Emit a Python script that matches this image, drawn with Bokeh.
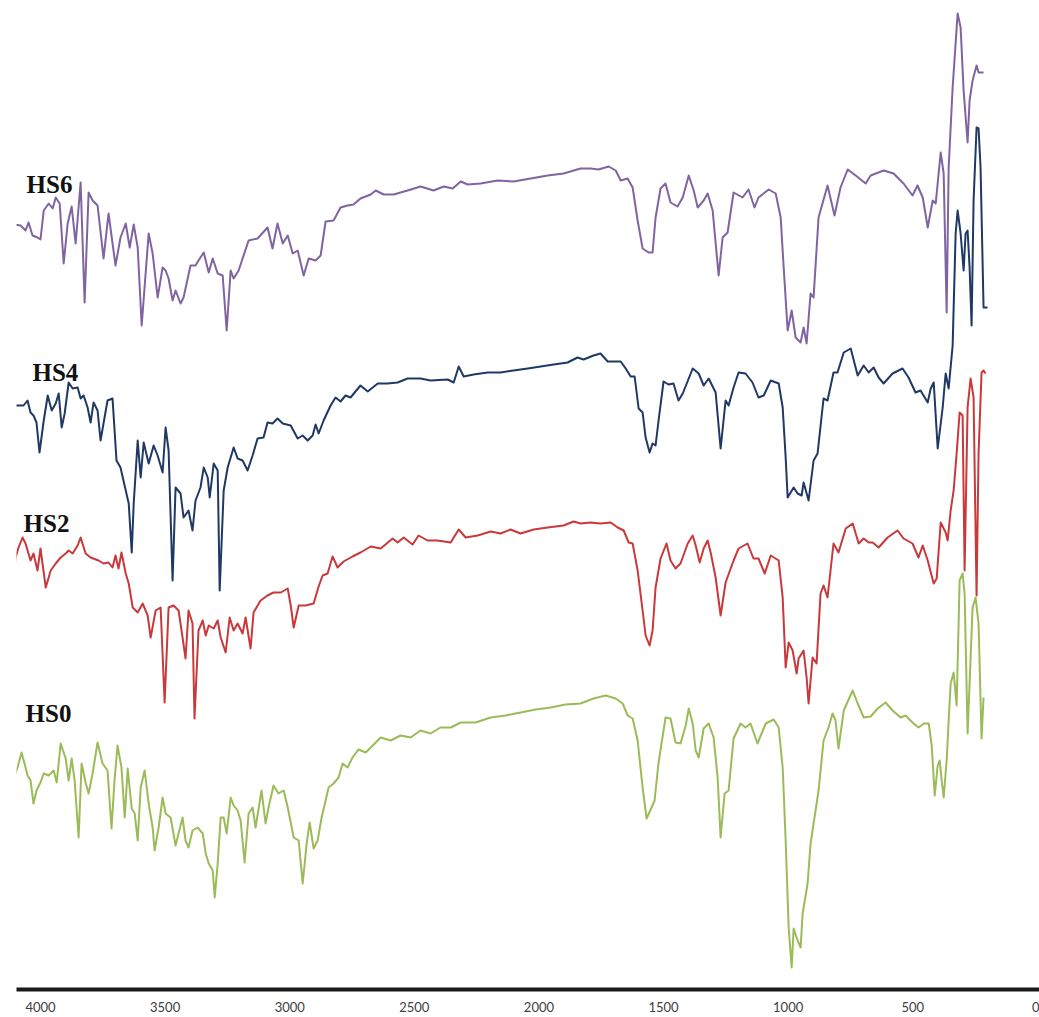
from bokeh.plotting import figure
from bokeh.models import Range1d, FixedTicker, Label
from bokeh.embed import file_html
from bokeh.resources import INLINE

# wavenumber (cm-1) and transmittance-like signal (arbitrary units, offset per trace)
hs6_wn = [4108,4080,4060,4048,4032,4012,4000,3987,3967,3951,3939,3923,3907,3891,3875,3859,3839,3823,3807,3791,
          3771,3747,3727,3699,3679,3658,3642,3626,3610,3594,3566,3550,3530,3510,3498,3486,3470,3458,3438,3426,
          3398,3378,3366,3345,3325,3309,3289,3269,3253,3237,3225,3205,3165,3129,3089,3069,3049,3028,3008,2988,
          2968,2944,2924,2896,2876,2856,2824,2796,2768,2744,2716,2675,2655,2623,2583,2527,2475,2423,2382,2346,
          2314,2286,2234,2166,2102,2033,1965,1901,1833,1793,1761,1720,1692,1672,1644,1624,1604,1584,1560,1544,
          1532,1512,1492,1472,1444,1423,1399,1379,1363,1339,1323,1303,1279,1263,1243,1219,1183,1159,1135,1119,
          1078,1050,1030,1018,1002,986,970,950,938,926,910,898,878,842,814,790,761,729,689,669,
          617,577,537,501,481,460,440,420,408,388,376,364,356,340,320,308,296,280,272,260,
          244,236,216]
hs6_t = [765,764,759,767,754,752,750,779,786,781,792,786,726,766,783,746,807,687,797,789,
         784,731,776,724,752,766,742,765,742,664,756,736,692,722,719,711,689,699,686,692,
         724,724,729,737,717,731,716,714,659,719,711,719,749,751,762,741,766,746,754,736,
         739,714,731,729,734,768,769,782,784,785,791,795,799,795,795,799,803,799,803,801,
         808,805,806,809,808,811,814,816,821,821,820,823,819,809,811,802,769,741,737,737,
         772,801,806,787,783,792,814,799,782,789,796,779,714,752,757,797,792,800,782,792,
         800,796,772,722,659,679,652,647,662,646,696,692,772,804,774,802,820,814,806,814,
         819,816,806,794,804,792,762,789,786,837,816,677,822,902,976,962,899,847,889,909,
         924,917,917]

hs4_wn = [4100,4068,4052,4040,4028,4016,4004,3987,3971,3955,3939,3927,3915,3903,3887,3871,3851,3839,3827,3811,
          3799,3787,3771,3759,3743,3731,3711,3695,3679,3658,3646,3634,3626,3610,3598,3586,3566,3546,3530,3510,
          3498,3486,3470,3458,3438,3426,3406,3390,3378,3358,3345,3329,3321,3305,3289,3281,3265,3249,3225,3209,
          3189,3169,3149,3129,3105,3089,3069,3049,3028,2996,2968,2948,2928,2908,2896,2884,2864,2836,2816,2796,
          2776,2756,2716,2687,2647,2607,2567,2527,2475,2435,2366,2342,2322,2302,2262,2206,2154,2102,2045,1993,
          1941,1885,1845,1821,1781,1753,1724,1672,1652,1632,1616,1600,1584,1572,1556,1544,1532,1520,1500,1480,
          1460,1440,1423,1383,1359,1339,1319,1291,1271,1251,1239,1219,1199,1171,1143,1119,1098,1070,1038,1022,
          1010,1002,978,962,946,938,918,898,882,858,842,818,802,777,749,721,697,677,657,637,
          617,581,541,517,489,469,440,428,416,400,380,368,356,340,328,320,308,296,288,280,
          272,264,256,244,236,228,216,200]
hs4_t = [584,584,589,577,574,567,537,569,594,579,586,596,562,576,607,601,602,591,594,582,
         567,587,579,549,572,589,591,529,522,499,486,437,486,549,512,547,526,544,534,517,
         562,539,409,502,496,472,479,459,489,502,522,512,492,526,519,399,499,522,542,531,
         529,519,534,551,552,567,566,571,566,564,551,554,549,554,565,556,569,584,592,588,
         594,592,604,598,606,606,607,611,611,609,610,607,623,613,615,617,617,619,621,623,
         625,627,632,630,634,636,628,628,621,613,613,581,577,552,537,546,544,569,608,605,
         606,589,596,621,616,604,611,597,541,589,584,602,617,616,607,592,594,609,606,582,
         532,492,502,496,494,507,489,529,536,591,589,617,617,637,641,614,624,617,622,612,
         606,616,621,612,597,599,587,601,607,541,582,616,601,644,756,779,756,719,756,759,
         722,664,789,862,861,822,682,682]

hs2_wn = [4108,4100,4088,4072,4060,4040,4028,4012,4000,3979,3959,3939,3919,3899,3887,3871,3851,3839,3819,3799,
          3767,3747,3727,3711,3699,3687,3675,3658,3646,3630,3610,3590,3570,3558,3538,3518,3502,3486,3466,3446,
          3430,3418,3406,3390,3382,3366,3349,3337,3325,3305,3289,3277,3257,3241,3225,3209,3189,3177,3157,3145,
          3117,3089,3065,3036,3008,2996,2984,2964,2936,2904,2884,2868,2848,2828,2808,2784,2748,2716,2675,2635,
          2587,2567,2543,2507,2483,2447,2407,2354,2322,2294,2246,2194,2154,2114,2074,2021,1965,1901,1861,1833,
          1793,1753,1712,1684,1660,1640,1624,1604,1584,1572,1556,1544,1532,1512,1488,1472,1452,1432,1403,1383,
          1371,1355,1339,1323,1311,1291,1271,1251,1219,1199,1163,1139,1119,1094,1070,1038,1022,1010,998,982,
          966,958,938,926,918,902,886,870,858,842,818,798,769,741,717,697,677,661,637,601,
          561,537,501,477,460,440,416,404,388,368,360,348,336,324,312,300,292,280,268,256,
          244,236,224,216,208]
hs2_t = [411,432,442,452,446,429,436,419,441,402,419,426,432,436,439,436,444,452,436,432,
         429,426,427,422,434,421,437,416,406,382,377,386,374,352,379,382,287,382,384,379,
         352,331,379,366,271,359,369,354,364,361,369,352,337,372,359,366,356,372,341,377,
         389,394,397,397,401,384,362,384,384,386,403,414,416,433,422,428,433,437,443,441,
         451,447,452,445,454,449,449,447,460,452,454,458,456,460,456,460,462,464,468,466,
         467,466,467,462,459,447,446,419,379,354,344,359,402,431,446,429,421,426,446,454,
         444,427,441,449,437,412,374,407,429,441,446,431,431,416,434,429,392,322,347,339,
         316,331,339,312,286,332,326,396,404,392,446,437,461,466,446,451,447,447,442,452,
         459,451,446,432,444,429,406,411,467,457,449,479,499,536,577,574,419,582,611,592,
         394,536,617,619,616]

hs0_wn = [4108,4092,4076,4064,4052,4040,4028,4016,4000,3987,3967,3947,3935,3919,3899,3887,3875,3863,3847,3835,
          3819,3807,3791,3771,3751,3731,3715,3703,3691,3675,3662,3650,3634,3622,3610,3598,3582,3566,3550,3542,
          3526,3510,3498,3478,3458,3446,3430,3418,3406,3390,3370,3349,3337,3325,3309,3301,3289,3277,3265,3253,
          3237,3225,3209,3197,3181,3165,3149,3137,3113,3097,3085,3065,3045,3024,3008,2984,2964,2948,2932,2920,
          2904,2888,2872,2856,2844,2824,2804,2788,2768,2748,2724,2695,2675,2635,2595,2555,2515,2475,2435,2395,
          2354,2314,2254,2194,2134,2074,2013,1953,1893,1833,1781,1732,1692,1664,1644,1624,1604,1584,1568,1548,
          1536,1520,1492,1472,1452,1432,1411,1399,1383,1371,1359,1339,1319,1299,1283,1271,1255,1239,1219,1191,
          1171,1151,1123,1090,1058,1038,1022,1010,998,986,978,962,950,942,922,910,898,878,858,838,
          822,810,798,777,741,721,697,669,641,609,581,549,529,501,477,456,436,424,412,400,
          392,384,376,364,356,348,336,324,312,300,292,280,272,260,248,236,224,216]
hs0_t = [212,222,237,226,214,209,186,199,207,216,214,219,207,246,231,209,231,209,152,226,
         207,196,216,247,226,219,161,209,244,222,172,221,181,176,149,202,219,186,162,139,
         162,192,176,172,144,156,172,149,142,159,162,156,136,126,119,92,126,172,172,156,
         192,184,179,169,127,176,182,162,199,166,182,204,196,199,182,152,149,106,146,167,
         141,149,172,189,202,206,212,226,222,232,240,237,242,252,249,254,252,259,256,262,
         262,267,267,272,274,277,280,282,285,286,291,294,291,286,274,271,249,202,171,182,
         189,227,272,271,247,246,264,281,266,239,232,261,266,252,212,152,196,199,251,266,
         262,266,246,266,270,262,222,149,62,22,61,49,42,76,106,146,166,199,249,262,
         276,269,241,279,299,286,272,273,281,287,279,272,274,267,262,266,266,244,194,224,
         229,209,192,229,269,306,317,284,409,416,396,256,306,382,392,366,251,292]

series = [
    ("HS6", hs6_wn, hs6_t, "#8064A2"),
    ("HS4", hs4_wn, hs4_t, "#1F3864"),
    ("HS2", hs2_wn, hs2_t, "#C9393B"),
    ("HS0", hs0_wn, hs0_t, "#9BBB59"),
]

# trace labels: (text, wavenumber at left edge, baseline signal level)
label_names = ["HS6", "HS4", "HS2", "HS0"]
label_wn = [4056, 4032, 4068, 4060]
label_t = [805, 617, 466, 276]

x_ticks = [0, 500, 1000, 1500, 2000, 2500, 3000, 3500, 4000]

p = figure(width=1039, height=1017, output_backend="svg", toolbar_location=None,
           x_range=Range1d(4096.3, -8.5), y_range=Range1d(0, 981),
           y_axis_location=None, min_border_left=16, min_border_right=0,
           min_border_top=8, min_border_bottom=28)
p.outline_line_color = None
p.xgrid.visible = False
p.ygrid.visible = False
p.background_fill_color = "white"
p.border_fill_color = "white"

for name, wn, t, col in series:
    p.line(wn, t, line_color=col, line_width=2, line_join="round")

for txt, lx, ly in zip(label_names, label_wn, label_t):
    p.add_layout(Label(x=lx, y=ly, text=txt, text_font="Liberation Serif",
                       text_font_style="bold", text_font_size="25px",
                       text_color="#111111", text_baseline="alphabetic", text_align="left"))

ax = p.xaxis[0]
ax.ticker = FixedTicker(ticks=x_ticks)
ax.axis_line_width = 4
ax.axis_line_color = "#1a1a1a"
ax.major_tick_line_color = None
ax.minor_tick_line_color = None
ax.major_tick_out = 0
ax.major_label_standoff = 12
ax.major_label_text_font = "Lato"
ax.major_label_text_font_size = "13px"
ax.major_label_text_color = "#404040"

open("out.html", "w").write(file_html(p, INLINE))
